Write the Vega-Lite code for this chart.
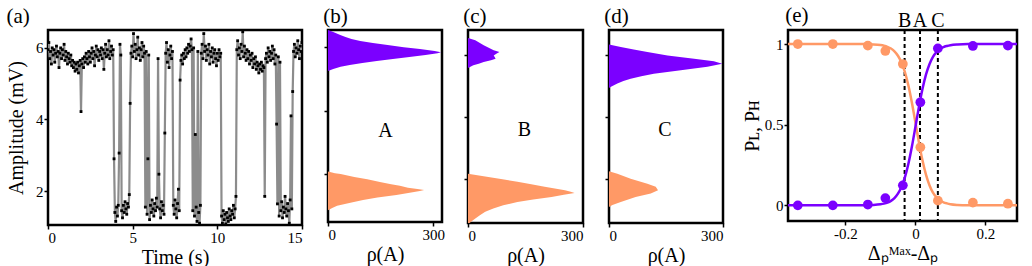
{
"$schema":"https://vega.github.io/schema/vega-lite/v6.json",
"background":"white",
"padding":{"left":5,"top":3,"right":5,"bottom":0},
"bounds":"flush",
"spacing":26,
"config":{
 "font":"Liberation Serif",
 "view":{"stroke":"black","strokeWidth":2.5},
 "axis":{"labelFont":"Liberation Serif","titleFont":"Liberation Serif","labelFontSize":15,"titleFontSize":20,"titleFontWeight":"normal","labelColor":"black","titleColor":"black","tickColor":"black","domain":false,"grid":false,"tickSize":4,"tickWidth":1.5,"labelPadding":1,"titlePadding":2},
 "title":{"font":"Liberation Serif","fontSize":21,"fontWeight":"normal","anchor":"start","offset":3,"color":"black"}
},
"datasets":{
"ts":[{"t":0,"v":5.95},{"t":0.05,"v":6.15},{"t":0.1,"v":5.7},{"t":0.15,"v":5.9},{"t":0.2,"v":5.55},{"t":0.25,"v":6.0},{"t":0.3,"v":5.8},{"t":0.35,"v":5.95},{"t":0.4,"v":5.6},{"t":0.45,"v":5.85},{"t":0.5,"v":6.05},{"t":0.55,"v":5.75},{"t":0.6,"v":5.9},{"t":0.65,"v":5.45},{"t":0.7,"v":5.85},{"t":0.75,"v":6.0},{"t":0.8,"v":5.7},{"t":0.85,"v":5.95},{"t":0.9,"v":5.8},{"t":0.95,"v":6.1},{"t":1.0,"v":5.65},{"t":1.05,"v":5.9},{"t":1.1,"v":5.75},{"t":1.15,"v":5.55},{"t":1.2,"v":5.85},{"t":1.25,"v":5.7},{"t":1.3,"v":5.6},{"t":1.35,"v":5.8},{"t":1.4,"v":5.5},{"t":1.45,"v":5.65},{"t":1.5,"v":5.45},{"t":1.55,"v":5.6},{"t":1.6,"v":5.35},{"t":1.65,"v":5.55},{"t":1.7,"v":5.4},{"t":1.75,"v":5.6},{"t":1.8,"v":5.3},{"t":1.85,"v":5.5},{"t":1.9,"v":5.65},{"t":1.95,"v":4.22},{"t":2.0,"v":5.55},{"t":2.05,"v":5.7},{"t":2.1,"v":5.45},{"t":2.15,"v":5.75},{"t":2.2,"v":5.6},{"t":2.25,"v":5.85},{"t":2.3,"v":5.7},{"t":2.35,"v":5.55},{"t":2.4,"v":5.9},{"t":2.45,"v":5.75},{"t":2.5,"v":5.6},{"t":2.55,"v":5.85},{"t":2.6,"v":6.0},{"t":2.65,"v":5.7},{"t":2.7,"v":5.9},{"t":2.75,"v":5.5},{"t":2.8,"v":5.8},{"t":2.85,"v":6.05},{"t":2.9,"v":5.75},{"t":2.95,"v":5.95},{"t":3.0,"v":5.65},{"t":3.05,"v":5.9},{"t":3.1,"v":5.8},{"t":3.15,"v":6.0},{"t":3.2,"v":5.7},{"t":3.25,"v":5.95},{"t":3.3,"v":5.4},{"t":3.35,"v":5.85},{"t":3.4,"v":6.1},{"t":3.45,"v":5.75},{"t":3.5,"v":5.95},{"t":3.55,"v":5.8},{"t":3.6,"v":6.2},{"t":3.65,"v":5.7},{"t":3.7,"v":5.9},{"t":3.75,"v":6.05},{"t":3.8,"v":5.8},{"t":3.85,"v":5.95},{"t":3.9,"v":2.9},{"t":3.95,"v":1.4},{"t":4.0,"v":1.15},{"t":4.05,"v":1.55},{"t":4.1,"v":1.3},{"t":4.15,"v":1.6},{"t":4.2,"v":3.06},{"t":4.25,"v":6.1},{"t":4.3,"v":5.8},{"t":4.35,"v":1.45},{"t":4.4,"v":1.25},{"t":4.45,"v":1.6},{"t":4.5,"v":1.4},{"t":4.55,"v":1.7},{"t":4.6,"v":1.5},{"t":4.65,"v":1.35},{"t":4.7,"v":1.65},{"t":4.75,"v":1.55},{"t":4.8,"v":1.9},{"t":4.85,"v":4.45},{"t":4.9,"v":5.85},{"t":4.95,"v":6.05},{"t":5.0,"v":5.75},{"t":5.05,"v":6.4},{"t":5.1,"v":5.9},{"t":5.15,"v":6.1},{"t":5.2,"v":5.7},{"t":5.25,"v":5.95},{"t":5.3,"v":6.3},{"t":5.35,"v":5.8},{"t":5.4,"v":6.0},{"t":5.45,"v":5.65},{"t":5.5,"v":5.95},{"t":5.55,"v":6.15},{"t":5.6,"v":5.75},{"t":5.65,"v":6.05},{"t":5.7,"v":5.85},{"t":5.75,"v":1.55},{"t":5.8,"v":5.9},{"t":5.85,"v":1.35},{"t":5.9,"v":2.9},{"t":5.95,"v":5.8},{"t":6.0,"v":1.2},{"t":6.05,"v":1.6},{"t":6.1,"v":1.4},{"t":6.15,"v":1.75},{"t":6.2,"v":1.5},{"t":6.25,"v":1.3},{"t":6.3,"v":1.65},{"t":6.35,"v":1.45},{"t":6.4,"v":1.8},{"t":6.45,"v":1.55},{"t":6.5,"v":5.7},{"t":6.55,"v":2.47},{"t":6.6,"v":1.5},{"t":6.65,"v":1.25},{"t":6.7,"v":1.7},{"t":6.75,"v":1.45},{"t":6.8,"v":1.6},{"t":6.85,"v":1.35},{"t":6.9,"v":3.62},{"t":6.95,"v":5.85},{"t":7.0,"v":6.15},{"t":7.05,"v":5.6},{"t":7.1,"v":5.95},{"t":7.15,"v":5.45},{"t":7.2,"v":5.8},{"t":7.25,"v":6.05},{"t":7.3,"v":5.7},{"t":7.35,"v":5.9},{"t":7.4,"v":1.6},{"t":7.45,"v":1.35},{"t":7.5,"v":1.75},{"t":7.55,"v":1.5},{"t":7.6,"v":1.25},{"t":7.65,"v":1.65},{"t":7.7,"v":2.05},{"t":7.75,"v":1.45},{"t":7.8,"v":5.1},{"t":7.85,"v":5.65},{"t":7.9,"v":5.8},{"t":7.95,"v":5.55},{"t":8.0,"v":5.85},{"t":8.05,"v":5.7},{"t":8.1,"v":5.95},{"t":8.15,"v":5.75},{"t":8.2,"v":6.0},{"t":8.25,"v":5.85},{"t":8.3,"v":6.1},{"t":8.35,"v":5.9},{"t":8.4,"v":6.05},{"t":8.45,"v":6.25},{"t":8.5,"v":5.95},{"t":8.55,"v":1.45},{"t":8.6,"v":6.0},{"t":8.65,"v":1.3},{"t":8.7,"v":3.58},{"t":8.75,"v":1.55},{"t":8.8,"v":1.15},{"t":8.85,"v":5.9},{"t":8.9,"v":1.4},{"t":8.95,"v":1.1},{"t":9.0,"v":1.6},{"t":9.05,"v":5.85},{"t":9.1,"v":6.1},{"t":9.15,"v":5.7},{"t":9.2,"v":6.4},{"t":9.25,"v":5.9},{"t":9.3,"v":6.05},{"t":9.35,"v":5.65},{"t":9.4,"v":5.95},{"t":9.45,"v":5.8},{"t":9.5,"v":6.1},{"t":9.55,"v":5.55},{"t":9.6,"v":5.9},{"t":9.65,"v":5.75},{"t":9.7,"v":6.0},{"t":9.75,"v":5.6},{"t":9.8,"v":5.85},{"t":9.85,"v":5.95},{"t":9.9,"v":5.7},{"t":9.95,"v":5.5},{"t":10.0,"v":5.85},{"t":10.05,"v":5.65},{"t":10.1,"v":5.95},{"t":10.15,"v":5.75},{"t":10.2,"v":5.85},{"t":10.25,"v":1.3},{"t":10.3,"v":1.1},{"t":10.35,"v":1.45},{"t":10.4,"v":1.2},{"t":10.45,"v":1.35},{"t":10.5,"v":1.08},{"t":10.55,"v":1.4},{"t":10.6,"v":1.25},{"t":10.65,"v":1.15},{"t":10.7,"v":1.5},{"t":10.75,"v":1.3},{"t":10.8,"v":1.2},{"t":10.85,"v":1.45},{"t":10.9,"v":1.35},{"t":10.95,"v":1.6},{"t":11.0,"v":1.25},{"t":11.05,"v":1.5},{"t":11.1,"v":1.85},{"t":11.15,"v":5.95},{"t":11.2,"v":6.2},{"t":11.25,"v":5.8},{"t":11.3,"v":6.0},{"t":11.35,"v":5.7},{"t":11.4,"v":6.1},{"t":11.45,"v":5.9},{"t":11.5,"v":6.45},{"t":11.55,"v":5.75},{"t":11.6,"v":6.05},{"t":11.65,"v":5.85},{"t":11.7,"v":5.65},{"t":11.75,"v":5.95},{"t":11.8,"v":5.7},{"t":11.85,"v":5.9},{"t":11.9,"v":5.55},{"t":11.95,"v":5.8},{"t":12.0,"v":5.65},{"t":12.05,"v":5.85},{"t":12.1,"v":5.45},{"t":12.15,"v":5.7},{"t":12.2,"v":5.55},{"t":12.25,"v":5.75},{"t":12.3,"v":5.4},{"t":12.35,"v":5.6},{"t":12.4,"v":5.5},{"t":12.45,"v":5.3},{"t":12.5,"v":5.55},{"t":12.55,"v":5.4},{"t":12.6,"v":5.6},{"t":12.65,"v":5.35},{"t":12.7,"v":5.5},{"t":12.75,"v":5.45},{"t":12.8,"v":1.85},{"t":12.85,"v":5.7},{"t":12.9,"v":5.85},{"t":12.95,"v":5.6},{"t":13.0,"v":6.0},{"t":13.05,"v":5.75},{"t":13.1,"v":5.9},{"t":13.15,"v":5.65},{"t":13.2,"v":5.85},{"t":13.25,"v":6.05},{"t":13.3,"v":5.7},{"t":13.35,"v":5.95},{"t":13.4,"v":5.55},{"t":13.45,"v":5.8},{"t":13.5,"v":3.87},{"t":13.55,"v":1.64},{"t":13.6,"v":5.75},{"t":13.65,"v":1.3},{"t":13.7,"v":5.6},{"t":13.75,"v":1.45},{"t":13.8,"v":1.7},{"t":13.85,"v":1.25},{"t":13.9,"v":1.55},{"t":13.95,"v":1.4},{"t":14.0,"v":1.85},{"t":14.05,"v":1.5},{"t":14.1,"v":1.3},{"t":14.15,"v":1.65},{"t":14.2,"v":1.45},{"t":14.25,"v":1.1},{"t":14.3,"v":1.75},{"t":14.35,"v":4.1},{"t":14.4,"v":1.5},{"t":14.45,"v":4.78},{"t":14.5,"v":5.9},{"t":14.55,"v":6.1},{"t":14.6,"v":5.75},{"t":14.65,"v":6.0},{"t":14.7,"v":5.85},{"t":14.75,"v":6.2},{"t":14.8,"v":5.95},{"t":14.85,"v":5.7},{"t":14.9,"v":6.05},{"t":14.95,"v":5.9},{"t":15.0,"v":6.15}],
"hist":[
{"p":"b","s":"H","a":6.54,"n":0},{"p":"b","s":"H","a":6.51,"n":8},{"p":"b","s":"H","a":6.45,"n":20},{"p":"b","s":"H","a":6.38,"n":35},{"p":"b","s":"H","a":6.32,"n":50},{"p":"b","s":"H","a":6.26,"n":67},{"p":"b","s":"H","a":6.19,"n":92},{"p":"b","s":"H","a":6.13,"n":128},{"p":"b","s":"H","a":6.07,"n":170},{"p":"b","s":"H","a":6.0,"n":216},{"p":"b","s":"H","a":5.94,"n":262},{"p":"b","s":"H","a":5.88,"n":304},{"p":"b","s":"H","a":5.84,"n":322},{"p":"b","s":"H","a":5.81,"n":312},{"p":"b","s":"H","a":5.75,"n":278},{"p":"b","s":"H","a":5.69,"n":232},{"p":"b","s":"H","a":5.63,"n":185},{"p":"b","s":"H","a":5.56,"n":139},{"p":"b","s":"H","a":5.5,"n":98},{"p":"b","s":"H","a":5.44,"n":62},{"p":"b","s":"H","a":5.38,"n":36},{"p":"b","s":"H","a":5.31,"n":15},{"p":"b","s":"H","a":5.25,"n":0},
{"p":"b","s":"L","a":2.08,"n":0},{"p":"b","s":"L","a":2.03,"n":20},{"p":"b","s":"L","a":2.0,"n":36},{"p":"b","s":"L","a":1.91,"n":75},{"p":"b","s":"L","a":1.84,"n":112},{"p":"b","s":"L","a":1.75,"n":148},{"p":"b","s":"L","a":1.68,"n":180},{"p":"b","s":"L","a":1.63,"n":205},{"p":"b","s":"L","a":1.57,"n":228},{"p":"b","s":"L","a":1.53,"n":255},{"p":"b","s":"L","a":1.5,"n":274},{"p":"b","s":"L","a":1.47,"n":262},{"p":"b","s":"L","a":1.42,"n":237},{"p":"b","s":"L","a":1.34,"n":195},{"p":"b","s":"L","a":1.26,"n":141},{"p":"b","s":"L","a":1.18,"n":100},{"p":"b","s":"L","a":1.1,"n":64},{"p":"b","s":"L","a":1.0,"n":26},{"p":"b","s":"L","a":0.93,"n":12},{"p":"b","s":"L","a":0.86,"n":0},
{"p":"c","s":"H","a":6.54,"n":0},{"p":"c","s":"H","a":6.47,"n":19},{"p":"c","s":"H","a":6.39,"n":30},{"p":"c","s":"H","a":6.31,"n":41},{"p":"c","s":"H","a":6.23,"n":54},{"p":"c","s":"H","a":6.15,"n":67},{"p":"c","s":"H","a":6.09,"n":82},{"p":"c","s":"H","a":6.04,"n":75},{"p":"c","s":"H","a":5.98,"n":67},{"p":"c","s":"H","a":5.92,"n":70},{"p":"c","s":"H","a":5.87,"n":72},{"p":"c","s":"H","a":5.82,"n":60},{"p":"c","s":"H","a":5.77,"n":41},{"p":"c","s":"H","a":5.71,"n":28},{"p":"c","s":"H","a":5.66,"n":14},{"p":"c","s":"H","a":5.57,"n":0},
{"p":"c","s":"L","a":2.16,"n":0},{"p":"c","s":"L","a":2.06,"n":49},{"p":"c","s":"L","a":1.98,"n":90},{"p":"c","s":"L","a":1.9,"n":129},{"p":"c","s":"L","a":1.82,"n":165},{"p":"c","s":"L","a":1.74,"n":200},{"p":"c","s":"L","a":1.63,"n":253},{"p":"c","s":"L","a":1.58,"n":268},{"p":"c","s":"L","a":1.54,"n":278},{"p":"c","s":"L","a":1.48,"n":250},{"p":"c","s":"L","a":1.41,"n":218},{"p":"c","s":"L","a":1.33,"n":170},{"p":"c","s":"L","a":1.25,"n":129},{"p":"c","s":"L","a":1.14,"n":92},{"p":"c","s":"L","a":1.04,"n":66},{"p":"c","s":"L","a":0.93,"n":45},{"p":"c","s":"L","a":0.82,"n":31},{"p":"c","s":"L","a":0.72,"n":20},{"p":"c","s":"L","a":0.66,"n":13},{"p":"c","s":"L","a":0.57,"n":4},
{"p":"d","s":"H","a":6.33,"n":0},{"p":"d","s":"H","a":6.25,"n":31},{"p":"d","s":"H","a":6.17,"n":65},{"p":"d","s":"H","a":6.09,"n":101},{"p":"d","s":"H","a":5.98,"n":154},{"p":"d","s":"H","a":5.87,"n":224},{"p":"d","s":"H","a":5.79,"n":276},{"p":"d","s":"H","a":5.71,"n":298},{"p":"d","s":"H","a":5.61,"n":259},{"p":"d","s":"H","a":5.5,"n":189},{"p":"d","s":"H","a":5.39,"n":118},{"p":"d","s":"H","a":5.31,"n":85},{"p":"d","s":"H","a":5.23,"n":57},{"p":"d","s":"H","a":5.15,"n":38},{"p":"d","s":"H","a":5.07,"n":22},{"p":"d","s":"H","a":4.96,"n":4},{"p":"d","s":"H","a":4.93,"n":0},
{"p":"d","s":"L","a":2.24,"n":0},{"p":"d","s":"L","a":2.16,"n":22},{"p":"d","s":"L","a":2.0,"n":57},{"p":"d","s":"L","a":1.84,"n":101},{"p":"d","s":"L","a":1.74,"n":123},{"p":"d","s":"L","a":1.63,"n":129},{"p":"d","s":"L","a":1.52,"n":110},{"p":"d","s":"L","a":1.41,"n":70},{"p":"d","s":"L","a":1.25,"n":31},{"p":"d","s":"L","a":1.15,"n":9},{"p":"d","s":"L","a":1.09,"n":0}
],
"fit":[{"x":-0.364,"h":0},{"x":-0.3,"h":0},{"x":-0.25,"h":0},{"x":-0.2,"h":0},{"x":-0.15,"h":0.0005},{"x":-0.12,"h":0.0024},{"x":-0.1,"h":0.0064},{"x":-0.09,"h":0.0105},{"x":-0.08,"h":0.0171},{"x":-0.07,"h":0.0279},{"x":-0.06,"h":0.0452},{"x":-0.05,"h":0.0724},{"x":-0.04,"h":0.114},{"x":-0.03,"h":0.175},{"x":-0.02,"h":0.259},{"x":-0.01,"h":0.366},{"x":0,"h":0.4875},{"x":0.01,"h":0.611},{"x":0.02,"h":0.721},{"x":0.03,"h":0.81},{"x":0.04,"h":0.875},{"x":0.05,"h":0.921},{"x":0.06,"h":0.95},{"x":0.07,"h":0.969},{"x":0.08,"h":0.981},{"x":0.09,"h":0.988},{"x":0.1,"h":0.993},{"x":0.12,"h":0.9974},{"x":0.15,"h":0.9995},{"x":0.2,"h":1},{"x":0.29,"h":1}],
"fitL":[{"x":-0.364,"l":1},{"x":-0.3,"l":1},{"x":-0.25,"l":1},{"x":-0.2,"l":1},{"x":-0.15,"l":0.9995},{"x":-0.12,"l":0.9976},{"x":-0.1,"l":0.9936},{"x":-0.09,"l":0.9895},{"x":-0.08,"l":0.9829},{"x":-0.07,"l":0.9721},{"x":-0.06,"l":0.9548},{"x":-0.05,"l":0.9276},{"x":-0.04,"l":0.886},{"x":-0.03,"l":0.825},{"x":-0.02,"l":0.741},{"x":-0.01,"l":0.634},{"x":0,"l":0.5125},{"x":0.01,"l":0.389},{"x":0.02,"l":0.279},{"x":0.03,"l":0.19},{"x":0.04,"l":0.125},{"x":0.05,"l":0.079},{"x":0.06,"l":0.05},{"x":0.07,"l":0.031},{"x":0.08,"l":0.019},{"x":0.09,"l":0.012},{"x":0.1,"l":0.007},{"x":0.12,"l":0.0026},{"x":0.15,"l":0.0005},{"x":0.2,"l":0},{"x":0.29,"l":0}],
"pts":[{"x":-0.336,"h":0.0,"l":1.0},{"x":-0.236,"h":0.0,"l":1.0},{"x":-0.136,"h":0.005,"l":0.99},{"x":-0.086,"h":0.045,"l":0.957},{"x":-0.036,"h":0.124,"l":0.876},{"x":0.014,"h":0.639,"l":0.36},{"x":0.064,"h":0.973,"l":0.029},{"x":0.164,"h":0.988,"l":0.017},{"x":0.264,"h":0.99,"l":0.01}],
"lines":[{"x":-0.031,"lab":"B"},{"x":0.013,"lab":"A"},{"x":0.064,"lab":"C"}],
"elabel":[{"x":-0.372,"y":1.175,"lab":"(e)"}]
},
"hconcat":[
{
 "width":254,"height":195,"title":"(a)",
 "data":{"name":"ts"},
 "encoding":{
  "x":{"field":"t","type":"quantitative","scale":{"domain":[0,15],"nice":false},"axis":{"values":[0,5,10,15],"title":"Time (s)"}},
  "y":{"field":"v","type":"quantitative","scale":{"domain":[1.05,6.5],"nice":false,"zero":false},"axis":{"values":[2,4,6],"title":"Amplitude (mV)","titlePadding":9}}
 },
 "layer":[
  {"mark":{"type":"line","color":"#8c8c8c","strokeWidth":2.2,"clip":true}},
  {"mark":{"type":"point","shape":"square","filled":true,"color":"black","size":8,"opacity":1,"clip":true}}
 ]
},
{
 "width":114,"height":192,"title":"(b)",
 "layer":[
  {"data":{"name":"hist"},"transform":[{"filter":"datum.p=='b'"}],
   "mark":{"type":"area","orient":"horizontal","opacity":1},
   "encoding":{
    "y":{"field":"a","type":"quantitative","scale":{"domain":[0.49,6.54],"nice":false,"zero":false},"axis":{"values":[2,4,6],"labels":false,"title":null}},
    "x":{"field":"n","type":"quantitative","stack":null,"scale":{"domain":[0,325],"nice":false},"axis":{"values":[0,100,200,300],"title":"ρ(A)"}},
    "color":{"field":"s","type":"nominal","scale":{"domain":["H","L"],"range":["#7B00FF","#FF9966"]},"legend":null}
   }},
  {"data":{"values":[{"lab":"A","n":164,"a":3.36}]},
   "mark":{"type":"text","fontSize":20,"font":"Liberation Serif","color":"black"},
   "encoding":{"x":{"field":"n","type":"quantitative"},"y":{"field":"a","type":"quantitative"},"text":{"field":"lab"}}}
 ]
},
{
 "width":115,"height":193,"title":"(c)",
 "layer":[
  {"data":{"name":"hist"},"transform":[{"filter":"datum.p=='c'"}],
   "mark":{"type":"area","orient":"horizontal","opacity":1},
   "encoding":{
    "y":{"field":"a","type":"quantitative","scale":{"domain":[0.57,6.8],"nice":false,"zero":false},"axis":{"values":[2,4,6],"labels":false,"title":null}},
    "x":{"field":"n","type":"quantitative","stack":null,"scale":{"domain":[0,300],"nice":false},"axis":{"values":[0,100,200,300],"title":"ρ(A)"}},
    "color":{"field":"s","type":"nominal","scale":{"domain":["H","L"],"range":["#7B00FF","#FF9966"]},"legend":null}
   }},
  {"data":{"values":[{"lab":"B","n":147,"a":3.56}]},
   "mark":{"type":"text","fontSize":20,"font":"Liberation Serif","color":"black"},
   "encoding":{"x":{"field":"n","type":"quantitative"},"y":{"field":"a","type":"quantitative"},"text":{"field":"lab"}}}
 ]
},
{
 "width":114,"height":193,"title":"(d)",
 "layer":[
  {"data":{"name":"hist"},"transform":[{"filter":"datum.p=='d'"}],
   "mark":{"type":"area","orient":"horizontal","opacity":1},
   "encoding":{
    "y":{"field":"a","type":"quantitative","scale":{"domain":[0.57,6.8],"nice":false,"zero":false},"axis":{"values":[2,4,6],"labels":false,"title":null}},
    "x":{"field":"n","type":"quantitative","stack":null,"scale":{"domain":[0,300],"nice":false},"axis":{"values":[0,100,200,300],"title":"ρ(A)"}},
    "color":{"field":"s","type":"nominal","scale":{"domain":["H","L"],"range":["#7B00FF","#FF9966"]},"legend":null}
   }},
  {"data":{"values":[{"lab":"C","n":147,"a":3.56}]},
   "mark":{"type":"text","fontSize":20,"font":"Liberation Serif","color":"black"},
   "encoding":{"x":{"field":"n","type":"quantitative"},"y":{"field":"a","type":"quantitative"},"text":{"field":"lab"}}}
 ]
},
{
 "width":13,"height":191,
 "view":{"stroke":null},
 "data":{"values":[{"k":""}]},
 "mark":{"type":"text"},
 "encoding":{"text":{"field":"k"}}
},
{
 "width":229,"height":191,
 "layer":[
  {"data":{"name":"lines"},
   "mark":{"type":"rule","strokeDash":[4,3],"strokeWidth":2,"color":"black"},
   "encoding":{"x":{"field":"x","type":"quantitative","scale":{"domain":[-0.364,0.29],"nice":false,"zero":false},"axis":{"values":[-0.2,0,0.2],"labelExpr":"replace(format(datum.value,'~g'),'−','-')","title":"Δₚᴹᵃˣ-Δₚ"}}}},
  {"data":{"name":"lines"},
   "mark":{"type":"text","fontSize":20,"font":"Liberation Serif","baseline":"middle","color":"black"},
   "encoding":{"x":{"field":"x","type":"quantitative"},"y":{"datum":1.144,"type":"quantitative","scale":{"domain":[-0.097,1.087],"nice":false,"zero":false},"axis":{"values":[0,0.5,1],"format":"~g","title":"Pʟ, Pʜ"}},"text":{"field":"lab"}}},
  {"data":{"name":"elabel"},
   "mark":{"type":"text","fontSize":21,"font":"Liberation Serif","baseline":"middle","align":"left","color":"black"},
   "encoding":{"x":{"field":"x","type":"quantitative"},"y":{"field":"y","type":"quantitative"},"text":{"field":"lab"}}},
  {"data":{"name":"fitL"},
   "mark":{"type":"line","color":"#FF9966","strokeWidth":2.5,"interpolate":"monotone"},
   "encoding":{"x":{"field":"x","type":"quantitative"},"y":{"field":"l","type":"quantitative"}}},
  {"data":{"name":"fit"},
   "mark":{"type":"line","color":"#7B00FF","strokeWidth":2.5,"interpolate":"monotone"},
   "encoding":{"x":{"field":"x","type":"quantitative"},"y":{"field":"h","type":"quantitative"}}},
  {"data":{"name":"pts"},
   "mark":{"type":"circle","color":"#FF9966","size":95,"opacity":1},
   "encoding":{"x":{"field":"x","type":"quantitative"},"y":{"field":"l","type":"quantitative"}}},
  {"data":{"name":"pts"},
   "mark":{"type":"circle","color":"#7B00FF","size":95,"opacity":1},
   "encoding":{"x":{"field":"x","type":"quantitative"},"y":{"field":"h","type":"quantitative"}}}
 ]
}
]
}
